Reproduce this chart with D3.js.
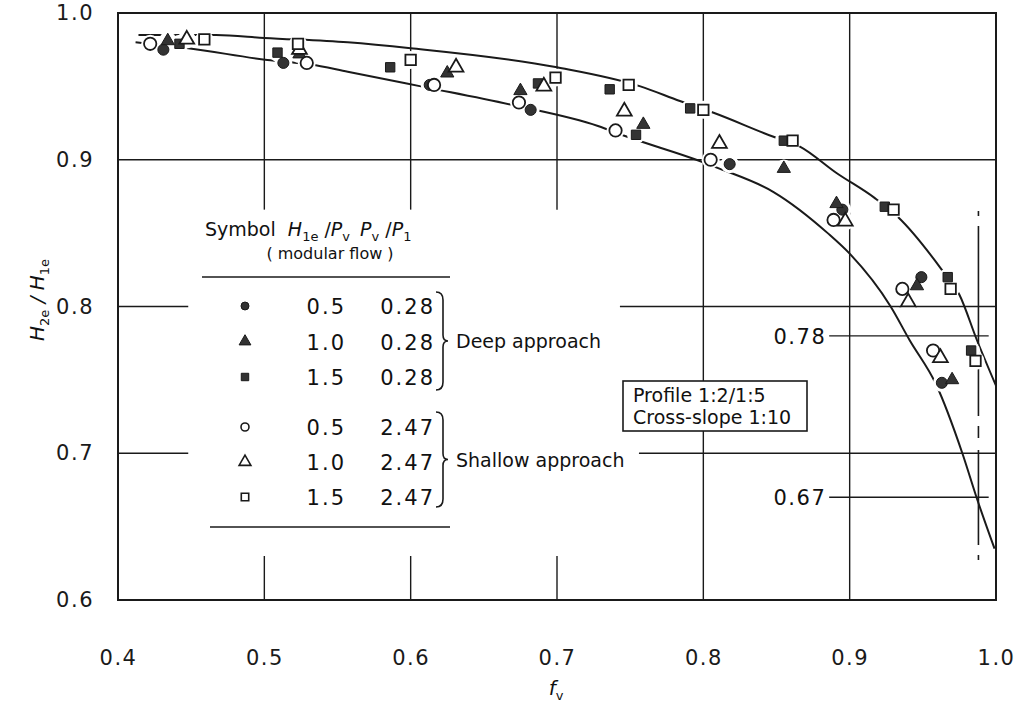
<!DOCTYPE html>
<html>
<head>
<meta charset="utf-8">
<script src="https://cdn.jsdelivr.net/npm/d3@7"></script>
<style>
  body { margin: 0; background: #fff; }
  svg { font-family: "DejaVu Sans", sans-serif; fill: #111; }
</style>
</head>
<body>
<svg id="chart" width="1016" height="707"></svg>
<script>
// axis ticks
const xTicks = [0.4, 0.5, 0.6, 0.7, 0.8, 0.9, 1.0];
const yTicks = [0.6, 0.7, 0.8, 0.9, 1.0];

// measured points [f_v, H2e/H1e]
const deep05 = [[0.431, 0.975], [0.513, 0.966], [0.613, 0.951], [0.682, 0.934], [0.818, 0.897], [0.895, 0.866], [0.949, 0.820], [0.963, 0.748]];
const deep10 = [[0.434, 0.981], [0.524, 0.972], [0.625, 0.959], [0.675, 0.947], [0.759, 0.924], [0.855, 0.894], [0.891, 0.870], [0.946, 0.814], [0.970, 0.750]];
const deep15 = [[0.442, 0.979], [0.509, 0.973], [0.586, 0.963], [0.687, 0.952], [0.736, 0.948], [0.754, 0.917], [0.791, 0.935], [0.855, 0.913], [0.924, 0.868], [0.967, 0.820], [0.983, 0.770]];
const shallow05 = [[0.422, 0.979], [0.529, 0.966], [0.616, 0.951], [0.674, 0.939], [0.740, 0.920], [0.805, 0.900], [0.889, 0.859], [0.936, 0.812], [0.957, 0.770]];
const shallow10 = [[0.447, 0.982], [0.524, 0.975], [0.631, 0.963], [0.691, 0.950], [0.746, 0.933], [0.811, 0.911], [0.897, 0.858], [0.940, 0.803], [0.962, 0.765]];
const shallow15 = [[0.459, 0.982], [0.523, 0.979], [0.600, 0.968], [0.699, 0.956], [0.749, 0.951], [0.800, 0.934], [0.861, 0.913], [0.930, 0.866], [0.969, 0.812], [0.986, 0.763]];

// fitted curves
const upperCurve = [[0.414, 0.985], [0.467, 0.985], [0.5, 0.983], [0.557, 0.980], [0.6, 0.976], [0.7, 0.963], [0.757, 0.950], [0.784, 0.940], [0.807, 0.932], [0.847, 0.916], [0.866, 0.909], [0.891, 0.891], [0.917, 0.874], [0.933, 0.861], [0.963, 0.825], [0.975, 0.808], [0.987, 0.777], [1.0, 0.746]];
const lowerCurve = [[0.412, 0.980], [0.448, 0.976], [0.502, 0.968], [0.531, 0.965], [0.557, 0.960], [0.607, 0.950], [0.671, 0.937], [0.728, 0.923], [0.747, 0.916], [0.798, 0.899], [0.811, 0.894], [0.848, 0.878], [0.885, 0.850], [0.9, 0.836], [0.928, 0.800], [0.941, 0.777], [0.959, 0.747], [0.977, 0.700], [0.987, 0.669], [0.999, 0.635]];

// modular limit and marked values
const limitF = 0.988;
const limitSpan = [0.865, 0.624];
const marks = [0.78, 0.67];

// gridline pieces (interrupted by the key)
const vGrid = [
  { f: 0.5, spans: [[1.0, 0.866], [0.630, 0.6]] },
  { f: 0.6, spans: [[1.0, 0.866], [0.630, 0.6]] },
  { f: 0.7, spans: [[1.0, 0.866], [0.630, 0.6]] },
  { f: 0.8, spans: [[1.0, 0.6]] },
  { f: 0.9, spans: [[1.0, 0.6]] }
];
const hGrid = [
  { h: 0.9, spans: [[0.4, 1.0]] },
  { h: 0.8, spans: [[0.4, 0.448], [0.743, 1.0]] },
  { h: 0.7, spans: [[0.4, 0.448], [0.756, 1.0]] }
];

// key table
const keyShape = ['circle', 'triangle', 'square', 'circle', 'triangle', 'square'];
const keyFilled = [true, true, true, false, false, false];
const keyH = ['0.5', '1.0', '1.5', '0.5', '1.0', '1.5'];
const keyP = ['0.28', '0.28', '0.28', '2.47', '2.47', '2.47'];
const groups = ['Deep approach', 'Shallow approach'];
const boxLines = ['Profile 1:2/1:5', 'Cross-slope 1:10'];

const svg = d3.select('#chart');
const x = d3.scaleLinear().domain([0.4, 1.0]).range([118, 996]);
const y = d3.scaleLinear().domain([0.6, 1.0]).range([600, 13]);
const ink = '#1a1a1a';

// grid
const grid = svg.append('g').attr('stroke', ink).attr('stroke-width', 1.4);
vGrid.forEach(g => g.spans.forEach(s => {
  grid.append('line').attr('x1', x(g.f)).attr('x2', x(g.f)).attr('y1', y(s[0])).attr('y2', y(s[1]));
}));
hGrid.forEach(g => g.spans.forEach(s => {
  grid.append('line').attr('y1', y(g.h)).attr('y2', y(g.h)).attr('x1', x(s[0])).attr('x2', x(s[1]));
}));

// frame
svg.append('rect').attr('x', x(0.4)).attr('y', y(1.0))
  .attr('width', x(1.0) - x(0.4)).attr('height', y(0.6) - y(1.0))
  .attr('fill', 'none').attr('stroke', ink).attr('stroke-width', 2);

// axes (labels only, ticks are the grid)
const xAxis = svg.append('g').attr('transform', `translate(0,${y(0.6)})`)
  .call(d3.axisBottom(x).tickValues(xTicks).tickFormat(d3.format('.1f')).tickSize(0).tickPadding(50));
const yAxis = svg.append('g').attr('transform', `translate(${x(0.4)},0)`)
  .call(d3.axisLeft(y).tickValues(yTicks).tickFormat(d3.format('.1f')).tickSize(0).tickPadding(24));
[xAxis, yAxis].forEach(a => {
  a.select('.domain').remove();
  a.selectAll('text').attr('font-size', 21).attr('letter-spacing', 1.5)
    .attr('font-family', '"DejaVu Sans", sans-serif').attr('fill', ink);
});

// axis titles
svg.append('text').attr('x', 556).attr('y', 695).attr('text-anchor', 'middle')
  .attr('font-size', 20).attr('font-style', 'italic')
  .html('f<tspan dy="5" font-size="13" font-style="normal">v</tspan>');
svg.append('text').attr('transform', 'translate(44,300) rotate(-90)').attr('text-anchor', 'middle')
  .attr('font-size', 20).attr('font-style', 'italic')
  .html('H<tspan dy="5" font-size="13" font-style="normal">2e</tspan><tspan dy="-5"> / H</tspan><tspan dy="5" font-size="13" font-style="normal">1e</tspan>');

// limit line and marked values
svg.append('line').attr('x1', x(limitF)).attr('x2', x(limitF))
  .attr('y1', y(limitSpan[0])).attr('y2', y(limitSpan[1]))
  .attr('stroke', ink).attr('stroke-width', 1.6).attr('stroke-dasharray', '5,10,190,10,12,12,95,10');
marks.forEach(m => {
  svg.append('line').attr('x1', x(0.886)).attr('x2', x(0.995)).attr('y1', y(m)).attr('y2', y(m))
    .attr('stroke', ink).attr('stroke-width', 1.4);
  svg.append('text').attr('x', x(0.884)).attr('y', y(m) + 8).attr('text-anchor', 'end')
    .attr('font-size', 21).attr('letter-spacing', 1.5).text(m.toFixed(2));
});

// curves
const line = d3.line().x(d => x(d[0])).y(d => y(d[1])).curve(d3.curveMonotoneX);
[upperCurve, lowerCurve].forEach(c => {
  svg.append('path').datum(c).attr('d', line).attr('fill', 'none')
    .attr('stroke', ink).attr('stroke-width', 2);
});

// symbols
const symType = { circle: d3.symbolCircle, triangle: d3.symbolTriangle, square: d3.symbolSquare };
const symSize = { circle: 120, triangle: 95, square: 110 };
const series = [deep05, deep10, deep15, shallow05, shallow10, shallow15];
// white knockouts give the broken-line look around symbols
const knock = svg.append('g');
series.forEach(pts => pts.forEach(p => {
  knock.append('circle').attr('cx', x(p[0])).attr('cy', y(p[1])).attr('r', 9).attr('fill', '#fff');
}));
series.forEach((pts, i) => {
  const shape = keyShape[i];
  const filled = keyFilled[i];
  svg.append('g').selectAll('path').data(pts).enter().append('path')
    .attr('transform', d => `translate(${x(d[0])},${y(d[1])})`)
    .attr('d', d3.symbol().type(symType[shape]).size(filled ? symSize[shape] * 0.8 : symSize[shape]))
    .attr('fill', filled ? '#333' : '#fff')
    .attr('stroke', ink).attr('stroke-width', filled ? 1 : 1.8);
});

// key table
const key = svg.append('g');
key.append('text').attr('x', 205).attr('y', 236).attr('font-size', 19)
  .html('Symbol <tspan dx="6" font-style="italic">H</tspan><tspan dy="5" font-size="13">1e</tspan><tspan dy="-5"> /</tspan><tspan font-style="italic">P</tspan><tspan dy="5" font-size="13">v</tspan><tspan dy="-5" dx="10" font-style="italic">P</tspan><tspan dy="5" font-size="13">v</tspan><tspan dy="-5"> /</tspan><tspan font-style="italic">P</tspan><tspan dy="5" font-size="13">1</tspan>');
key.append('text').attr('x', 330).attr('y', 259).attr('text-anchor', 'middle').attr('font-size', 16)
  .text('( modular flow )');
key.append('line').attr('x1', 202).attr('x2', 450).attr('y1', 277).attr('y2', 277).attr('stroke', ink).attr('stroke-width', 1.4);
key.append('line').attr('x1', 210).attr('x2', 450).attr('y1', 527).attr('y2', 527).attr('stroke', ink).attr('stroke-width', 1.4);

const keySym = { circle: 50, triangle: 60, square: 55 };
keyShape.forEach((shape, i) => {
  const cy = i < 3 ? 306 + i * 35.5 : 427 + (i - 3) * 35;
  key.append('path').attr('transform', `translate(245,${cy})`)
    .attr('d', d3.symbol().type(symType[shape]).size(keySym[shape]))
    .attr('fill', keyFilled[i] ? '#333' : '#fff').attr('stroke', ink).attr('stroke-width', keyFilled[i] ? 1 : 1.6);
  key.append('text').attr('x', 346).attr('y', cy + 8).attr('text-anchor', 'end')
    .attr('font-size', 21).attr('letter-spacing', 2).text(keyH[i]);
  key.append('text').attr('x', 435).attr('y', cy + 8).attr('text-anchor', 'end')
    .attr('font-size', 21).attr('letter-spacing', 2).text(keyP[i]);
});

// braces
function brace(top, bot, xb) {
  const mid = (top + bot) / 2;
  return `M${xb},${top} Q${xb + 7},${top} ${xb + 7},${top + 8} L${xb + 7},${mid - 6} Q${xb + 7},${mid} ${xb + 12},${mid}` +
    ` Q${xb + 7},${mid} ${xb + 7},${mid + 6} L${xb + 7},${bot - 8} Q${xb + 7},${bot} ${xb},${bot}`;
}
[[292, 390], [412, 507]].forEach((b, i) => {
  key.append('path').attr('d', brace(b[0], b[1], 436)).attr('fill', 'none').attr('stroke', ink).attr('stroke-width', 1.6);
  key.append('text').attr('x', 456).attr('y', (b[0] + b[1]) / 2 + 7).attr('font-size', 19).text(groups[i]);
});

// profile box
const box = svg.append('g');
box.append('rect').attr('x', 623).attr('y', 381).attr('width', 184).attr('height', 50)
  .attr('fill', '#fff').attr('stroke', ink).attr('stroke-width', 1.6);
boxLines.forEach((t, i) => {
  box.append('text').attr('x', 633).attr('y', 402 + i * 22).attr('font-size', 19).text(t);
});
</script>
</body>
</html>
